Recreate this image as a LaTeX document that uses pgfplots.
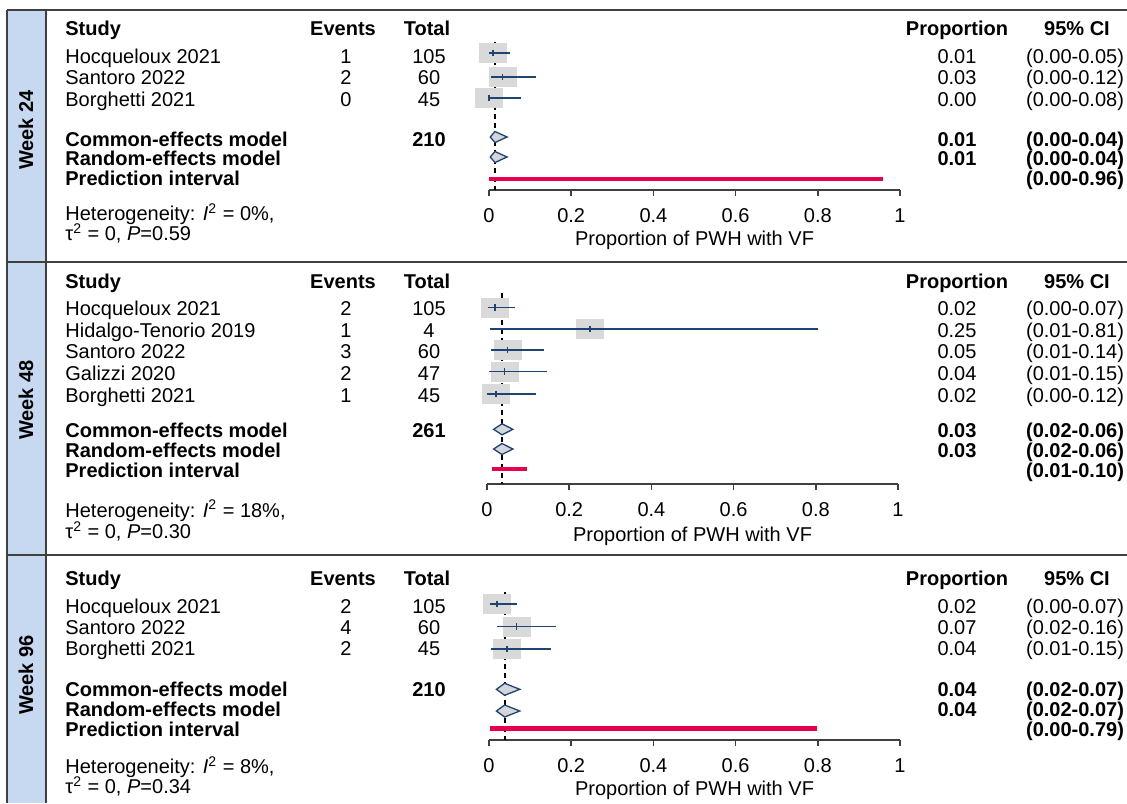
\documentclass[border=0pt]{standalone}
\usepackage{fontspec}
\setmainfont{Liberation Sans}
\usepackage{pgfplots}
\usepackage{pgfplotstable}
\pgfplotsset{compat=1.18}
\definecolor{navy}{RGB}{31,68,115}
\definecolor{boxgray}{RGB}{217,217,217}
\definecolor{diamfill}{RGB}{212,214,217}
\definecolor{predred}{RGB}{232,0,78}
\definecolor{stripe}{RGB}{198,217,241}
\definecolor{framec}{RGB}{64,64,64}

% study tables: est lo hi y(pixel row, negative)
\pgfplotstableread{
est lo hi y
0.0095 0.0002 0.052 -53
0.0333 0.0041 0.115 -77
0.0000 0.0000 0.079 -98
}\wkA
\pgfplotstableread{
est lo hi y
0.0190 0.0023 0.067 -307.5
0.2500 0.0063 0.806 -329
0.0500 0.0104 0.139 -350
0.0426 0.0052 0.145 -371.7
0.0222 0.0006 0.118 -394
}\wkB
\pgfplotstableread{
est lo hi y
0.0190 0.0023 0.067 -604
0.0667 0.0185 0.162 -626.7
0.0444 0.0054 0.151 -649
}\wkC

\pgfplotsset{
  forest/.style={
    scale only axis, clip=false, clip marker paths=true,
    xmin=0, xmax=1, width=205.5pt,
    axis x line=bottom, axis y line=none,
    axis line style={-},
    xtick={0,0.2,0.4,0.6,0.8,1}, ytick=\empty,
    tick align=outside, major tick length=3pt,
    x axis line style={framec, line width=0.8pt},
    xtick style={framec, line width=0.8pt},
    ticklabel style={font=\fontsize{10}{12}\selectfont},
    xticklabel style={yshift=-6.3pt},
    /pgf/number format/assume math mode=true,
  },
  boxes/.style={only marks, mark=square*, mark size=4.75pt, boxgray,
    mark options={boxgray, xscale=1.42}},
  cis/.style={draw=none, mark=|, mark size=1.7pt,
    mark options={navy, line width=0.8pt},
    error bars/.cd, x dir=both, x explicit, error mark=none,
    error bar style={navy, line width=0.75pt}},
  diam/.style={fill=diamfill, draw=navy, line width=0.65pt},
  pred/.style={predred, line width=2.2pt},
  refl/.style={black, line width=1pt, dash pattern=on 2.5pt off 2pt},
}

\begin{document}
\begin{tikzpicture}[every node/.style={font=\fontsize{10}{12}\selectfont, inner sep=0pt}]
\begin{scope}[x=0.5pt,y=-0.5pt]
\useasboundingbox (0,0) rectangle (1127,803);
\fill[stripe] (7,10) rectangle (46,803);
\draw[framec, line width=1pt] (7,10) -- (7,803) (46,10) -- (46,803);
\draw[framec, line width=1pt] (7,10) -- (1127,10) (7,262) -- (1127,262) (7,555) -- (1127,555);
\node[rotate=90, font=\fontsize{10}{12}\selectfont\bfseries] at (26,130) {Week 24};
\node[rotate=90, font=\fontsize{10}{12}\selectfont\bfseries] at (26,400) {Week 48};
\node[rotate=90, font=\fontsize{10}{12}\selectfont\bfseries] at (26,675) {Week 96};

% ---------- Panel 1 ----------
\node[anchor=base west, font=\fontsize{10}{12}\selectfont\bfseries] at (65,35) {Study};
\node[anchor=base, font=\fontsize{10}{12}\selectfont\bfseries] at (343,35) {Events};
\node[anchor=base, font=\fontsize{10}{12}\selectfont\bfseries] at (427,35) {Total};
\node[anchor=base, font=\fontsize{10}{12}\selectfont\bfseries] at (957,35) {Proportion};
\node[anchor=base, font=\fontsize{10}{12}\selectfont\bfseries] at (1077,35) {95\% CI};
\foreach \yy/\s/\e/\t/\p/\c in {63.3/Hocqueloux 2021/1/105/0.01/(0.00-0.05),
  84.5/Santoro 2022/2/60/0.03/(0.00-0.12),
  106/Borghetti 2021/0/45/0.00/(0.00-0.08)}{
  \node[anchor=base west] at (65,\yy) {\s};
  \node[anchor=base] at (346,\yy) {\e};
  \node[anchor=base] at (429,\yy) {\t};
  \node[anchor=base] at (957,\yy) {\p};
  \node[anchor=base] at (1075,\yy) {\c};
}
\begin{scope}[every node/.append style={font=\fontsize{10}{12}\selectfont\bfseries}]
\node[anchor=base west] at (65,146) {Common-effects model};
\node[anchor=base] at (429,146) {210};
\node[anchor=base] at (957,146) {0.01};
\node[anchor=base] at (1075,146) {(0.00-0.04)};
\node[anchor=base west] at (65,165.5) {Random-effects model};
\node[anchor=base] at (957,165.5) {0.01};
\node[anchor=base] at (1075,165.5) {(0.00-0.04)};
\node[anchor=base west] at (65,185.5) {Prediction interval};
\node[anchor=base] at (1075,185.5) {(0.00-0.96)};
\end{scope}
\node[anchor=base west] at (65,220.7) {Heterogeneity: \textit{I}\textsuperscript{2} = 0\%,};
\node[anchor=base west] at (65,240.7) {τ\textsuperscript{2} = 0, \textit{P}=0.59};
\node[anchor=base] at (694.5,245) {Proportion of PWH with VF};

% ---------- Panel 2 ----------
\node[anchor=base west, font=\fontsize{10}{12}\selectfont\bfseries] at (65,288) {Study};
\node[anchor=base, font=\fontsize{10}{12}\selectfont\bfseries] at (343,288) {Events};
\node[anchor=base, font=\fontsize{10}{12}\selectfont\bfseries] at (427,288) {Total};
\node[anchor=base, font=\fontsize{10}{12}\selectfont\bfseries] at (957,288) {Proportion};
\node[anchor=base, font=\fontsize{10}{12}\selectfont\bfseries] at (1077,288) {95\% CI};
\foreach \yy/\s/\e/\t/\p/\c in {315.3/Hocqueloux 2021/2/105/0.02/(0.00-0.07),
  337/Hidalgo-Tenorio 2019/1/4/0.25/(0.01-0.81),
  358.7/Santoro 2022/3/60/0.05/(0.01-0.14),
  380.3/Galizzi 2020/2/47/0.04/(0.01-0.15),
  402/Borghetti 2021/1/45/0.02/(0.00-0.12)}{
  \node[anchor=base west] at (65,\yy) {\s};
  \node[anchor=base] at (346,\yy) {\e};
  \node[anchor=base] at (429,\yy) {\t};
  \node[anchor=base] at (957,\yy) {\p};
  \node[anchor=base] at (1075,\yy) {\c};
}
\begin{scope}[every node/.append style={font=\fontsize{10}{12}\selectfont\bfseries}]
\node[anchor=base west] at (65,437) {Common-effects model};
\node[anchor=base] at (429,437) {261};
\node[anchor=base] at (957,437) {0.03};
\node[anchor=base] at (1075,437) {(0.02-0.06)};
\node[anchor=base west] at (65,457) {Random-effects model};
\node[anchor=base] at (957,457) {0.03};
\node[anchor=base] at (1075,457) {(0.02-0.06)};
\node[anchor=base west] at (65,477) {Prediction interval};
\node[anchor=base] at (1075,477) {(0.01-0.10)};
\end{scope}
\node[anchor=base west] at (65,517) {Heterogeneity: \textit{I}\textsuperscript{2} = 18\%,};
\node[anchor=base west] at (65,538.7) {τ\textsuperscript{2} = 0, \textit{P}=0.30};
\node[anchor=base] at (692.5,541) {Proportion of PWH with VF};

% ---------- Panel 3 ----------
\node[anchor=base west, font=\fontsize{10}{12}\selectfont\bfseries] at (65,585) {Study};
\node[anchor=base, font=\fontsize{10}{12}\selectfont\bfseries] at (343,585) {Events};
\node[anchor=base, font=\fontsize{10}{12}\selectfont\bfseries] at (427,585) {Total};
\node[anchor=base, font=\fontsize{10}{12}\selectfont\bfseries] at (957,585) {Proportion};
\node[anchor=base, font=\fontsize{10}{12}\selectfont\bfseries] at (1077,585) {95\% CI};
\foreach \yy/\s/\e/\t/\p/\c in {613.3/Hocqueloux 2021/2/105/0.02/(0.00-0.07),
  634.5/Santoro 2022/4/60/0.07/(0.02-0.16),
  655.5/Borghetti 2021/2/45/0.04/(0.01-0.15)}{
  \node[anchor=base west] at (65,\yy) {\s};
  \node[anchor=base] at (346,\yy) {\e};
  \node[anchor=base] at (429,\yy) {\t};
  \node[anchor=base] at (957,\yy) {\p};
  \node[anchor=base] at (1075,\yy) {\c};
}
\begin{scope}[every node/.append style={font=\fontsize{10}{12}\selectfont\bfseries}]
\node[anchor=base west] at (65,696.7) {Common-effects model};
\node[anchor=base] at (429,696.7) {210};
\node[anchor=base] at (957,696.7) {0.04};
\node[anchor=base] at (1075,696.7) {(0.02-0.07)};
\node[anchor=base west] at (65,716.7) {Random-effects model};
\node[anchor=base] at (957,716.7) {0.04};
\node[anchor=base] at (1075,716.7) {(0.02-0.07)};
\node[anchor=base west] at (65,736.7) {Prediction interval};
\node[anchor=base] at (1075,736.7) {(0.00-0.79)};
\end{scope}
\node[anchor=base west] at (65,773.3) {Heterogeneity: \textit{I}\textsuperscript{2} = 8\%,};
\node[anchor=base west] at (65,793.3) {τ\textsuperscript{2} = 0, \textit{P}=0.34};
\node[anchor=base] at (694.5,795) {Proportion of PWH with VF};
\end{scope}

% ---------- Axes ----------
\begin{axis}[forest, at={(244.5pt,-95pt)}, anchor=south west,
  ymin=-190, ymax=-42, height=74pt]
  \addplot[refl] coordinates {(0.0145,-42) (0.0145,-190)};
  \addplot[boxes] table[x=est, y=y] {\wkA};
  \addplot[cis] table[x=est, y=y,
     x error minus expr=\thisrow{est}-\thisrow{lo},
     x error plus expr=\thisrow{hi}-\thisrow{est}] {\wkA};
  \addplot[diam] coordinates {(0.003,-137) (0.0145,-131.5) (0.044,-137) (0.0145,-142.5)} -- cycle;
  \addplot[diam] coordinates {(0.003,-157) (0.0145,-151.5) (0.044,-157) (0.0145,-162.5)} -- cycle;
  \addplot[pred] coordinates {(0.001,-179) (0.959,-179)};
\end{axis}

\begin{axis}[forest, at={(243.5pt,-242pt)}, anchor=south west,
  ymin=-484, ymax=-293, height=95.5pt]
  \addplot[refl] coordinates {(0.0365,-293) (0.0365,-484)};
  \addplot[boxes] table[x=est, y=y] {\wkB};
  \addplot[cis] table[x=est, y=y,
     x error minus expr=\thisrow{est}-\thisrow{lo},
     x error plus expr=\thisrow{hi}-\thisrow{est}] {\wkB};
  \addplot[diam] coordinates {(0.016,-429.3) (0.0365,-423.8) (0.063,-429.3) (0.0365,-434.8)} -- cycle;
  \addplot[diam] coordinates {(0.016,-449) (0.0365,-443.5) (0.063,-449) (0.0365,-454.5)} -- cycle;
  \addplot[pred] coordinates {(0.012,-468.7) (0.097,-468.7)};
\end{axis}

\begin{axis}[forest, at={(244.5pt,-370pt)}, anchor=south west,
  ymin=-740, ymax=-592, height=74pt]
  \addplot[refl] coordinates {(0.038,-592) (0.038,-740)};
  \addplot[boxes] table[x=est, y=y] {\wkC};
  \addplot[cis] table[x=est, y=y,
     x error minus expr=\thisrow{est}-\thisrow{lo},
     x error plus expr=\thisrow{hi}-\thisrow{est}] {\wkC};
  \addplot[diam] coordinates {(0.018,-689.3) (0.038,-683.3) (0.075,-689.3) (0.038,-695.3)} -- cycle;
  \addplot[diam] coordinates {(0.018,-711) (0.038,-705) (0.075,-711) (0.038,-717)} -- cycle;
  \addplot[pred] coordinates {(0.003,-728.3) (0.797,-728.3)};
\end{axis}
\end{tikzpicture}
\end{document}
